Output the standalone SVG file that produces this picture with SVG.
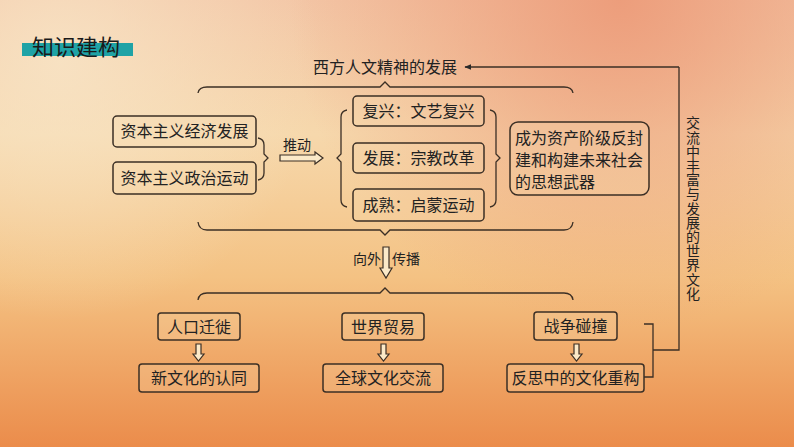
<svg xmlns="http://www.w3.org/2000/svg" width="794" height="447" viewBox="0 0 794 447">
<defs>
<linearGradient id="bg" x1="0" y1="0" x2="0" y2="1">
<stop offset="0" stop-color="#f3c6a6"/>
<stop offset="0.3" stop-color="#f6d8ac"/>
<stop offset="0.62" stop-color="#f4c283"/>
<stop offset="1" stop-color="#eb8c4b"/>
</linearGradient>
<radialGradient id="salmon" cx="620" cy="0" r="330" gradientUnits="userSpaceOnUse">
<stop offset="0" stop-color="#ec9977" stop-opacity="0.9"/>
<stop offset="1" stop-color="#ec9977" stop-opacity="0"/>
</radialGradient>
<radialGradient id="cream" cx="60" cy="60" r="260" gradientUnits="userSpaceOnUse">
<stop offset="0" stop-color="#f8e6c8" stop-opacity="0.8"/>
<stop offset="1" stop-color="#f8e6c8" stop-opacity="0"/>
</radialGradient>
<marker id="ah" viewBox="0 0 10 10" refX="9" refY="5" markerWidth="7" markerHeight="7" orient="auto" markerUnits="userSpaceOnUse">
<path d="M0,1 L10,5 L0,9 Z" fill="#2a2a2a"/>
</marker>
</defs>
<style>
.box{fill:#f7dcae;fill-opacity:0.25;stroke:#3b2f25;stroke-width:1.5}
.t{font-family:"Noto Sans CJK SC",sans-serif;font-size:16px;fill:#222}
.s{font-family:"Noto Sans CJK SC",sans-serif;font-size:14px;fill:#222}
.ln{fill:none;stroke:#3b2f25;stroke-width:1.3}
.har{fill:#fbe9c8;stroke:#3b2f25;stroke-width:1.2}
</style>
<rect width="794" height="447" fill="url(#bg)"/>
<rect width="794" height="447" fill="url(#salmon)"/>
<rect width="794" height="447" fill="url(#cream)"/>

<g id="header">
<rect x="22" y="43" width="111" height="13" fill="#1fa3a6"/>
<text x="32" y="55" font-family="Noto Sans CJK SC,sans-serif" font-size="22" fill="#1a1a1a">知识建构</text>
</g>

<g id="title">
<text class="t" x="385" y="73" text-anchor="middle">西方人文精神的发展</text>
</g>

<g id="connectors">
<path class="ln" d="M679,67 H465" marker-end="url(#ah)"/>
<path class="ln" d="M679,67 V350 H653"/>
<path class="ln" d="M644,324 H653 V377 H644"/>
<path class="ln" d="M198,93 Q199,87 207,87 H380 L385,82 L390,87 H564 Q572,87 573,93"/>
<path class="ln" d="M198,222 Q199,230 207,230 H380 L385,235 L390,230 H564 Q572,230 573,222"/>
<path class="ln" d="M198,300 Q199,293 207,293 H380 L385,288 L390,293 H564 Q572,293 573,300"/>
<path class="ln" d="M258,138 Q264,139 264,145 V154 L268,158 L264,162 V173 Q264,179 258,180"/>
<path class="ln" d="M347,110 Q341,111 341,117 V154 L337,158 L341,162 V200 Q341,206 347,207"/>
<path class="ln" d="M490,110 Q496,111 496,117 V154 L500,158 L496,162 V200 Q496,206 490,207"/>
<path class="har" d="M280,155 H315 V152 L323,158 L315,164 V161 H280 Z"/>
<path class="har" d="M383,247 H389 V268 H392 L386,278 L380,268 H383 Z"/>
<path class="har" d="M196,344 H201 V354 H204 L198.5,361 L193,354 H196 Z"/>
<path class="har" d="M381,344 H386 V354 H389 L383.5,361 L378,354 H381 Z"/>
<path class="har" d="M574,344 H579 V354 H582 L576.5,361 L571,354 H574 Z"/>
</g>

<g id="tuidong"><text class="s" x="283" y="150">推动</text></g>
<g id="chuanbo">
<text class="s" x="353" y="264">向外</text>
<text class="s" x="392" y="264">传播</text>
</g>

<g id="n-econ"><rect class="box" x="113" y="116" width="143" height="31" rx="4"/><text class="t" x="184.5" y="137" text-anchor="middle">资本主义经济发展</text></g>
<g id="n-polit"><rect class="box" x="113" y="162" width="143" height="32" rx="4"/><text class="t" x="184.5" y="184" text-anchor="middle">资本主义政治运动</text></g>

<g id="n-fuxing"><rect class="box" x="353" y="96" width="131" height="30" rx="4"/><text class="t" x="418.5" y="117" text-anchor="middle">复兴：文艺复兴</text></g>
<g id="n-fazhan"><rect class="box" x="353" y="143" width="131" height="30" rx="4"/><text class="t" x="418.5" y="164" text-anchor="middle">发展：宗教改革</text></g>
<g id="n-chengshu"><rect class="box" x="353" y="189" width="131" height="32" rx="4"/><text class="t" x="418.5" y="211" text-anchor="middle">成熟：启蒙运动</text></g>

<g id="n-weapon"><rect class="box" x="510" y="122" width="139" height="73" rx="8"/>
<text class="t" x="515" y="144">成为资产阶级反封</text>
<text class="t" x="515" y="166">建和构建未来社会</text>
<text class="t" x="515" y="188">的思想武器</text>
</g>

<g id="vertical">
<text class="s" x="693" y="116" writing-mode="vertical-rl" letter-spacing="0.2">交流中丰富与发展的世界文化</text>
</g>

<g id="n-migrate"><rect class="box" x="158" y="313" width="82" height="27" rx="3"/><text class="t" x="199" y="332.5" text-anchor="middle">人口迁徙</text></g>
<g id="n-trade"><rect class="box" x="342" y="313" width="82" height="27" rx="3"/><text class="t" x="383" y="332.5" text-anchor="middle">世界贸易</text></g>
<g id="n-war"><rect class="box" x="534" y="312" width="83" height="28" rx="3"/><text class="t" x="575.5" y="332" text-anchor="middle">战争碰撞</text></g>

<g id="n-identity"><rect class="box" x="139" y="364" width="120" height="28" rx="3"/><text class="t" x="199" y="384" text-anchor="middle">新文化的认同</text></g>
<g id="n-global"><rect class="box" x="323" y="364" width="120" height="28" rx="3"/><text class="t" x="383" y="384" text-anchor="middle">全球文化交流</text></g>
<g id="n-rebuild"><rect class="box" x="507" y="364" width="137" height="28" rx="3"/><text class="t" x="575.5" y="384" text-anchor="middle">反思中的文化重构</text></g>
</svg>
